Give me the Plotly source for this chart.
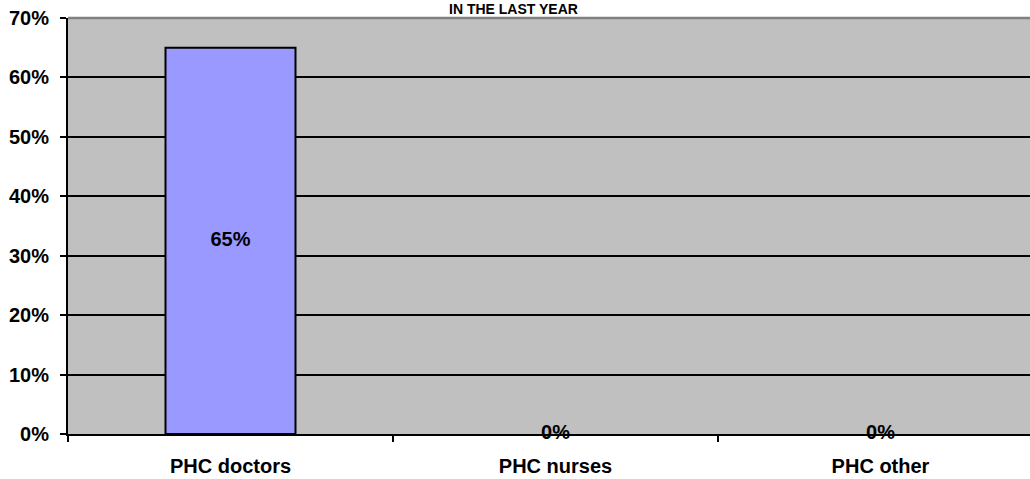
import plotly.graph_objects as go

categories = ["PHC doctors", "PHC nurses", "PHC other"]
values = [0.65, 0.0, 0.0]
y_ticks = [0, 0.1, 0.2, 0.3, 0.4, 0.5, 0.6, 0.7]
title_text = "IN THE LAST YEAR"

FONT = "Arial, Liberation Sans, sans-serif"
FS = 20

W, H = 1030, 479
ML, MR, MT, MB = 68, 0, 18, 45
PLOT_W, PLOT_H = W - ML - MR, H - MT - MB
CAT_PX = 325  # pixel width of one category band (chart is cropped at right)

fig = go.Figure()
fig.add_trace(go.Bar(
    x=categories, y=values,
    marker=dict(color="#9999FF",
                line=dict(color="black", width=[2 if v > 0 else 0 for v in values])),
    width=0.4, hoverinfo="skip",
))
fig.add_trace(go.Scatter(
    x=categories, y=[v / 2 for v in values],
    mode="text",
    text=[f"{round(v*100)}%" for v in values],
    textfont=dict(family=FONT, size=FS, color="black", weight="bold"),
    hoverinfo="skip", cliponaxis=False,
))

fig.add_annotation(
    text=f"<b>{title_text}</b>", xref="paper", yref="paper",
    x=(513 - ML) / PLOT_W, y=1 + 9 / PLOT_H, yanchor="middle",
    showarrow=False, font=dict(family=FONT, size=14, color="black"),
)

fig.add_shape(type="line", xref="paper", yref="paper", x0=0, x1=1, y0=1, y1=1,
              line=dict(color="#808080", width=2.5))

fig.update_layout(
    width=W, height=H,
    margin=dict(l=ML, r=MR, t=MT, b=MB),
    paper_bgcolor="white", plot_bgcolor="#C0C0C0",
    showlegend=False,
    font=dict(family=FONT, color="black"),
    xaxis=dict(
        showline=True, linecolor="black", linewidth=2,
        ticks="outside", ticklen=6, tickwidth=1.5, tickcolor="black",
        tickson="boundaries", showgrid=False,
        tickfont=dict(family=FONT, size=FS, color="black", weight="bold"),
        ticklabelstandoff=13,
        range=[-0.5, -0.5 + PLOT_W / CAT_PX],
    ),
    yaxis=dict(
        range=[0, 0.7], tickvals=y_ticks, tickformat=".0%",
        showline=True, linecolor="black", linewidth=2,
        ticks="outside", ticklen=6, tickwidth=2, tickcolor="black",
        showgrid=True, gridcolor="black", gridwidth=2,
        zeroline=False,
        tickfont=dict(family=FONT, size=FS, color="black", weight="bold"),
        ticklabelstandoff=7, ticklabeloverflow="allow",
    ),
)

fig.write_html("out.html", config={"displayModeBar": False},
               post_script="document.body.style.margin='0';")
